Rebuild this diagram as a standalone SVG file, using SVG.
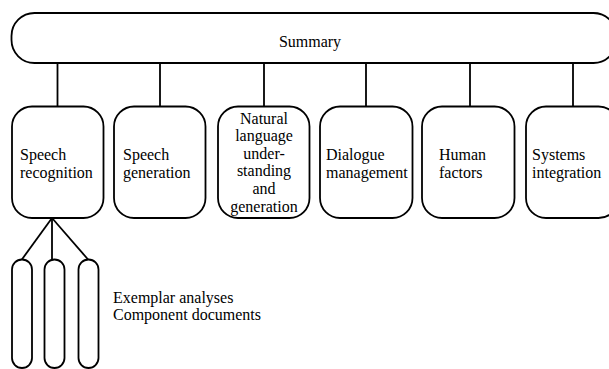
<svg xmlns="http://www.w3.org/2000/svg" width="609" height="369" viewBox="0 0 609 369">
<style>
.s{fill:#fff;stroke:#000;stroke-width:1.8}
.c{fill:none;stroke:#000;stroke-width:1.8}
text{font-family:"Liberation Serif","Times New Roman","DejaVu Serif",serif;font-size:16px;fill:#000}
.m{text-anchor:middle}
</style>
<rect width="609" height="369" fill="#fff"/>
<g id="connectors">
<line class="c" x1="57.5" y1="63" x2="57.5" y2="107"/>
<line class="c" x1="160" y1="63" x2="160" y2="107"/>
<line class="c" x1="264" y1="63" x2="264" y2="107"/>
<line class="c" x1="366" y1="63" x2="366" y2="107"/>
<line class="c" x1="470" y1="63" x2="470" y2="107"/>
<line class="c" x1="573" y1="63" x2="573" y2="107"/>
<line class="c" x1="52" y1="218" x2="21.5" y2="260"/>
<line class="c" x1="52" y1="218" x2="52" y2="260"/>
<line class="c" x1="52" y1="218" x2="88.5" y2="260"/>
</g>
<g id="summary">
<rect class="s" x="11.5" y="13" width="605" height="50" rx="23" ry="23"/>
<text class="m" x="310" y="47" font-family="Liberation Serif, serif">Summary</text>
</g>
<g id="speech-recognition">
<rect class="s" x="12" y="106.5" width="91.5" height="111.5" rx="20" ry="20"/>
<text x="20" y="160">Speech</text>
<text x="20" y="178">recognition</text>
</g>
<g id="speech-generation">
<rect class="s" x="114" y="106.5" width="91.5" height="111.5" rx="20" ry="20"/>
<text x="123" y="160">Speech</text>
<text x="123" y="178">generation</text>
</g>
<g id="nlu">
<rect class="s" x="218" y="106.5" width="91.5" height="111.5" rx="20" ry="20"/>
<text class="m" x="264" y="123.5">Natural</text>
<text class="m" x="264" y="141">language</text>
<text class="m" x="264" y="158.5">under-</text>
<text class="m" x="264" y="176">standing</text>
<text class="m" x="264" y="193.5">and</text>
<text class="m" x="264" y="211.5">generation</text>
</g>
<g id="dialogue-management">
<rect class="s" x="320" y="106.5" width="92.5" height="111.5" rx="20" ry="20"/>
<text x="326" y="160">Dialogue</text>
<text x="326" y="178">management</text>
</g>
<g id="human-factors">
<rect class="s" x="422" y="106.5" width="92.5" height="111.5" rx="20" ry="20"/>
<text x="439" y="160">Human</text>
<text x="439" y="178">factors</text>
</g>
<g id="systems-integration">
<rect class="s" x="526" y="106.5" width="92.5" height="111.5" rx="20" ry="20"/>
<text x="532" y="160">Systems</text>
<text x="532" y="178">integration</text>
</g>
<g id="component-1"><rect class="s" x="12" y="259.5" width="20" height="108.5" rx="10" ry="10"/></g>
<g id="component-2"><rect class="s" x="44.5" y="259.5" width="20" height="108.5" rx="10" ry="10"/></g>
<g id="component-3"><rect class="s" x="78.5" y="259.5" width="20" height="108.5" rx="10" ry="10"/></g>
<g id="legend">
<text x="113" y="303">Exemplar analyses</text>
<text x="113" y="320">Component documents</text>
</g>
</svg>
